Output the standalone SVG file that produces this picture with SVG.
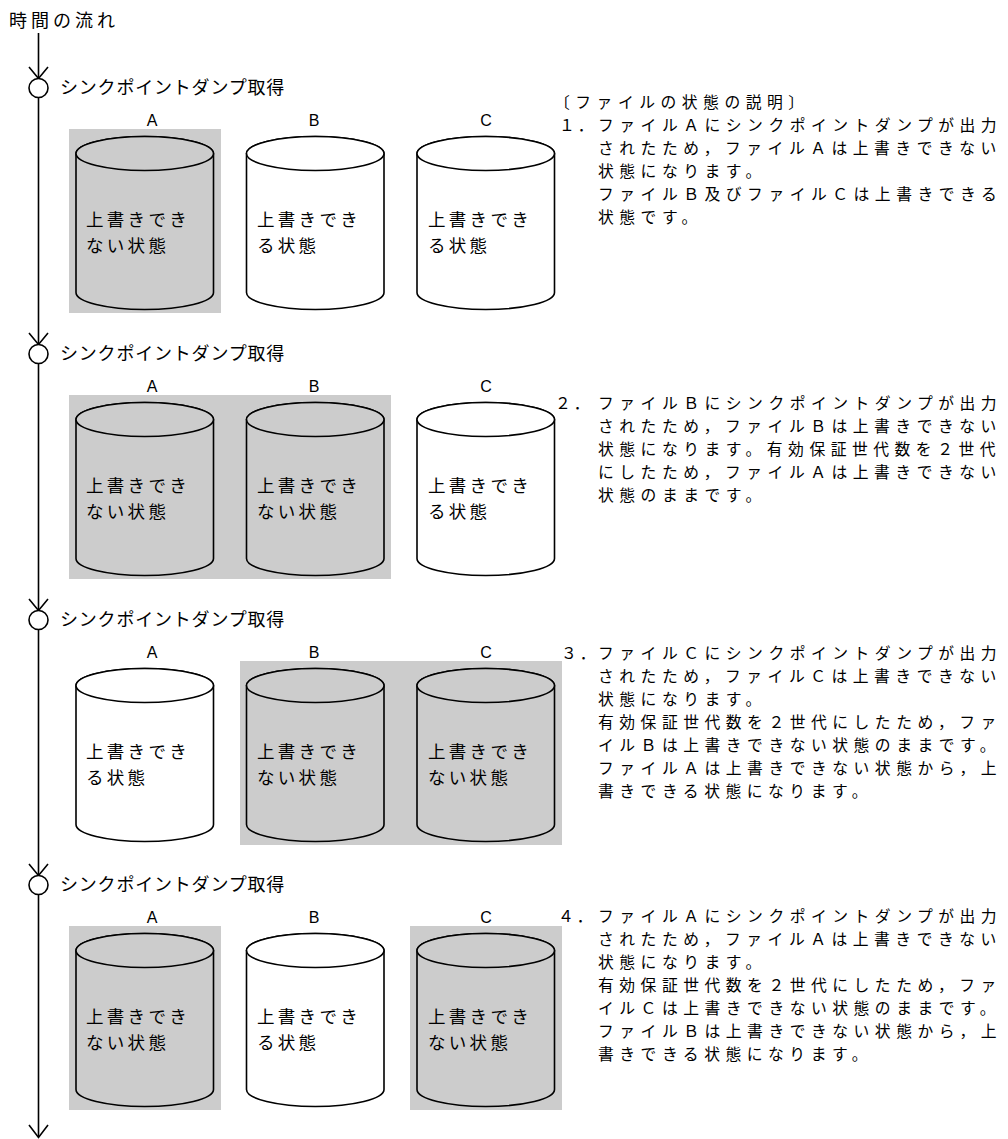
<svg xmlns="http://www.w3.org/2000/svg" width="1008" height="1139" viewBox="0 0 1008 1139">
<style>
.jp{font-family:"Noto Sans CJK JP","Noto Sans CJK SC",sans-serif;font-size:18px;fill:#000}
.lbl{letter-spacing:0.8px}
.ct{font-size:17.5px;letter-spacing:3.3px}
.rt{font-size:15.8px;letter-spacing:5.5px}
.num{letter-spacing:3px}
.abc{font-family:"Liberation Sans",Arial,sans-serif;font-size:16px;text-anchor:middle;fill:#000}
.gray{fill:#cccccc}
.cyl{stroke:#000;stroke-width:1.6}
.g{fill:#cccccc}
.w{fill:#fff}
.tl{stroke:#000;stroke-width:1.6;fill:none}
.dot{fill:#fff;stroke:#000;stroke-width:1.6}
</style>
<defs>
<g id="cylbody">
<path d="M0,0 L0,139 A68.75,17 0 0 0 137.5,139 L137.5,0 A68.75,17 0 0 0 0,0 Z"/>
<ellipse cx="68.75" cy="0" rx="68.75" ry="17"/>
</g>
</defs>
<text class="jp" x="9" y="27" style="letter-spacing:4px">時間の流れ</text>
<g id="connectors" class="tl">
<line x1="38.5" y1="33" x2="38.5" y2="1137"/>
<polyline points="29,67 38.5,78.5 48,67"/>
<polyline points="29,333 38.5,344.5 48,333"/>
<polyline points="29,599 38.5,610.5 48,599"/>
<polyline points="29,864 38.5,875.5 48,864"/>
<polyline points="29,1125 38.5,1137.5 48,1125"/>
</g>
<g id="events">
<circle class="dot" cx="38.5" cy="88" r="9.5"/>
<circle class="dot" cx="38.5" cy="354" r="9.5"/>
<circle class="dot" cx="38.5" cy="620" r="9.5"/>
<circle class="dot" cx="38.5" cy="885" r="9.5"/>
<text class="jp lbl" x="60" y="94">シンクポイントダンプ取得</text>
<text class="jp lbl" x="60" y="360">シンクポイントダンプ取得</text>
<text class="jp lbl" x="60" y="626">シンクポイントダンプ取得</text>
<text class="jp lbl" x="60" y="891">シンクポイントダンプ取得</text>
</g>
<!-- Section 1 -->
<g id="step1" transform="translate(0,0)">
<rect class="gray" x="69" y="129" width="152" height="184"/>
<text class="abc" x="152" y="126">A</text>
<text class="abc" x="314" y="126">B</text>
<text class="abc" x="486" y="126">C</text>
<g id="s1A"><use href="#cylbody" x="76" y="153.5" class="cyl g"/><text class="jp ct" x="86" y="226">上書きでき<tspan x="86" dy="26">ない状態</tspan></text></g>
<g id="s1B"><use href="#cylbody" x="246.5" y="153.5" class="cyl w"/><text class="jp ct" x="257" y="226">上書きでき<tspan x="257" dy="26">る状態</tspan></text></g>
<g id="s1C"><use href="#cylbody" x="417" y="153.5" class="cyl w"/><text class="jp ct" x="428" y="226">上書きでき<tspan x="428" dy="26">る状態</tspan></text></g>
</g>
<!-- Section 2 -->
<g id="step2" transform="translate(0,266)">
<rect class="gray" x="69" y="129" width="322" height="184"/>
<text class="abc" x="152" y="126">A</text>
<text class="abc" x="314" y="126">B</text>
<text class="abc" x="486" y="126">C</text>
<g id="s2A"><use href="#cylbody" x="76" y="153.5" class="cyl g"/><text class="jp ct" x="86" y="226">上書きでき<tspan x="86" dy="26">ない状態</tspan></text></g>
<g id="s2B"><use href="#cylbody" x="246.5" y="153.5" class="cyl g"/><text class="jp ct" x="257" y="226">上書きでき<tspan x="257" dy="26">ない状態</tspan></text></g>
<g id="s2C"><use href="#cylbody" x="417" y="153.5" class="cyl w"/><text class="jp ct" x="428" y="226">上書きでき<tspan x="428" dy="26">る状態</tspan></text></g>
</g>
<!-- Section 3 -->
<g id="step3" transform="translate(0,532)">
<rect class="gray" x="240" y="129" width="322" height="184"/>
<text class="abc" x="152" y="126">A</text>
<text class="abc" x="314" y="126">B</text>
<text class="abc" x="486" y="126">C</text>
<g id="s3A"><use href="#cylbody" x="76" y="153.5" class="cyl w"/><text class="jp ct" x="86" y="226">上書きでき<tspan x="86" dy="26">る状態</tspan></text></g>
<g id="s3B"><use href="#cylbody" x="246.5" y="153.5" class="cyl g"/><text class="jp ct" x="257" y="226">上書きでき<tspan x="257" dy="26">ない状態</tspan></text></g>
<g id="s3C"><use href="#cylbody" x="417" y="153.5" class="cyl g"/><text class="jp ct" x="428" y="226">上書きでき<tspan x="428" dy="26">ない状態</tspan></text></g>
</g>
<!-- Section 4 -->
<g id="step4" transform="translate(0,797)">
<rect class="gray" x="69" y="129" width="152" height="184"/>
<rect class="gray" x="410" y="129" width="152" height="184"/>
<text class="abc" x="152" y="126">A</text>
<text class="abc" x="314" y="126">B</text>
<text class="abc" x="486" y="126">C</text>
<g id="s4A"><use href="#cylbody" x="76" y="153.5" class="cyl g"/><text class="jp ct" x="86" y="226">上書きでき<tspan x="86" dy="26">ない状態</tspan></text></g>
<g id="s4B"><use href="#cylbody" x="246.5" y="153.5" class="cyl w"/><text class="jp ct" x="257" y="226">上書きでき<tspan x="257" dy="26">る状態</tspan></text></g>
<g id="s4C"><use href="#cylbody" x="417" y="153.5" class="cyl g"/><text class="jp ct" x="428" y="226">上書きでき<tspan x="428" dy="26">ない状態</tspan></text></g>
</g>
<!-- Explanations -->
<g id="note1">
<text class="jp rt" x="554" y="108">〔ファイルの状態の説明〕<tspan class="num" x="559" dy="23">１．</tspan><tspan x="598">ファイルＡにシンクポイントダンプが出力</tspan><tspan x="598" dy="23">されたため，ファイルＡは上書きできない</tspan><tspan x="598" dy="23">状態になります。</tspan><tspan x="598" dy="23">ファイルＢ及びファイルＣは上書きできる</tspan><tspan x="598" dy="23">状態です。</tspan></text>
</g>
<g id="note2">
<text class="jp rt" y="409"><tspan class="num" x="555">２．</tspan><tspan x="598">ファイルＢにシンクポイントダンプが出力</tspan><tspan x="598" dy="23">されたため，ファイルＢは上書きできない</tspan><tspan x="598" dy="23">状態になります。有効保証世代数を２世代</tspan><tspan x="598" dy="23">にしたため，ファイルＡは上書きできない</tspan><tspan x="598" dy="23">状態のままです。</tspan></text>
</g>
<g id="note3">
<text class="jp rt" y="659"><tspan class="num" x="561">３．</tspan><tspan x="598">ファイルＣにシンクポイントダンプが出力</tspan><tspan x="598" dy="23">されたため，ファイルＣは上書きできない</tspan><tspan x="598" dy="23">状態になります。</tspan><tspan x="598" dy="23">有効保証世代数を２世代にしたため，ファ</tspan><tspan x="598" dy="23">イルＢは上書きできない状態のままです。</tspan><tspan x="598" dy="23">ファイルＡは上書きできない状態から，上</tspan><tspan x="598" dy="23">書きできる状態になります。</tspan></text>
</g>
<g id="note4">
<text class="jp rt" y="922"><tspan class="num" x="558">４．</tspan><tspan x="598">ファイルＡにシンクポイントダンプが出力</tspan><tspan x="598" dy="23">されたため，ファイルＡは上書きできない</tspan><tspan x="598" dy="23">状態になります。</tspan><tspan x="598" dy="23">有効保証世代数を２世代にしたため，ファ</tspan><tspan x="598" dy="23">イルＣは上書きできない状態のままです。</tspan><tspan x="598" dy="23">ファイルＢは上書きできない状態から，上</tspan><tspan x="598" dy="23">書きできる状態になります。</tspan></text>
</g>
</svg>
